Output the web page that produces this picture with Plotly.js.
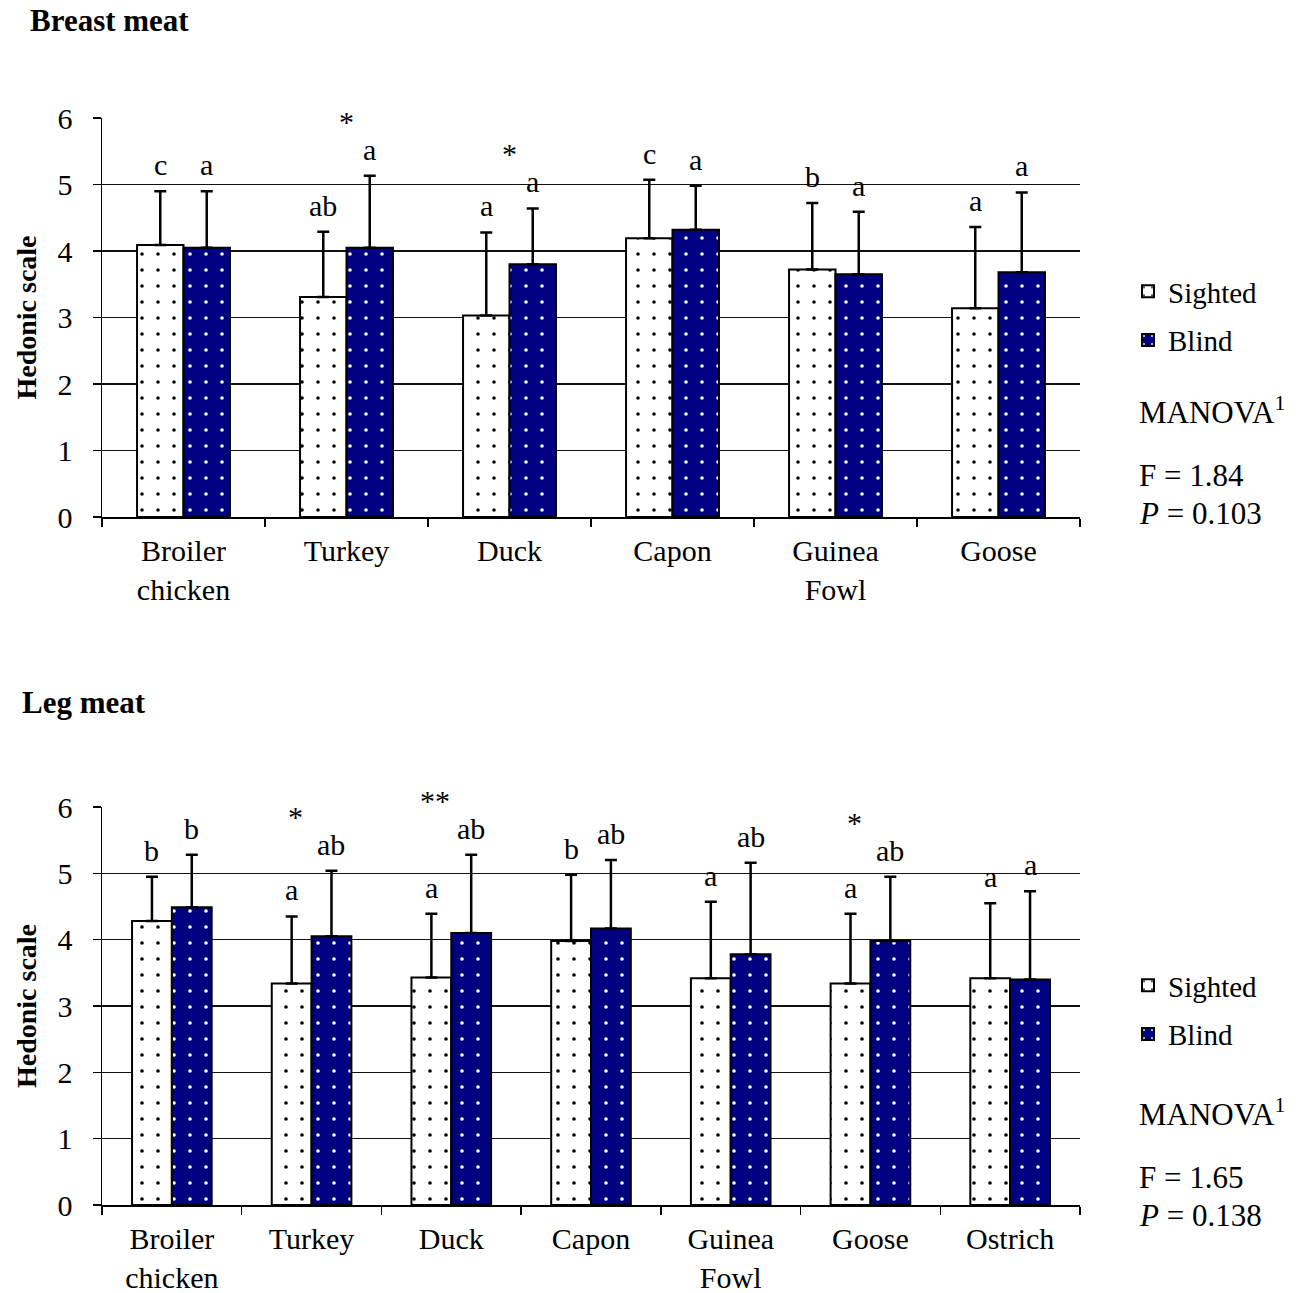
<!DOCTYPE html>
<html>
<head>
<meta charset="utf-8">
<script src="https://cdn.plot.ly/plotly-3.0.1.min.js"></script>
<style>html,body{margin:0;padding:0;background:#fff;}#chart{width:1306px;height:1293px;}</style>
</head>
<body>
<div id="chart"></div>
<script>
// ---------- Data ----------
const breastCategories = ['Broiler<br>chicken', 'Turkey', 'Duck', 'Capon', 'Guinea<br>Fowl', 'Goose'];
const breastSightedMean = [4.09, 3.31, 3.03, 4.19, 3.72, 3.14];
const breastSightedSD   = [0.81, 0.98, 1.25, 0.88, 1.00, 1.22];
const breastBlindMean   = [4.05, 4.05, 3.80, 4.32, 3.65, 3.68];
const breastBlindSD     = [0.85, 1.08, 0.84, 0.66, 0.94, 1.20];
const breastSightedLetters = ['c', 'ab', 'a', 'c', 'b', 'a'];
const breastBlindLetters   = ['a', 'a', 'a', 'a', 'a', 'a'];
const breastStars          = ['', '*', '*', '', '', ''];
const breastF = '1.84';
const breastP = '0.103';

const legCategories = ['Broiler<br>chicken', 'Turkey', 'Duck', 'Capon', 'Guinea<br>Fowl', 'Goose', 'Ostrich'];
const legSightedMean = [4.28, 3.34, 3.43, 3.98, 3.42, 3.34, 3.42];
const legSightedSD   = [0.67, 1.01, 0.96, 1.00, 1.15, 1.05, 1.13];
const legBlindMean   = [4.49, 4.05, 4.10, 4.17, 3.78, 3.98, 3.40];
const legBlindSD     = [0.79, 0.99, 1.18, 1.03, 1.38, 0.97, 1.33];
const legSightedLetters = ['b', 'a', 'a', 'b', 'a', 'a', 'a'];
const legBlindLetters   = ['b', 'ab', 'ab', 'ab', 'ab', 'ab', 'a'];
const legStars          = ['', '*', '**', '', '', '*', ''];
const legF = '1.65';
const legP = '0.138';

const seriesNames = ['Sighted', 'Blind'];
const yTicks = [0, 1, 2, 3, 4, 5, 6];

// ---------- Styles ----------
const W = 1306, H = 1293;
const FONT = 'Liberation Serif, Times New Roman, serif';
const NAVY = '#000080';
const BARGAP = 0.43;
const TXT = 30;
const xDomain = [102 / W, 1080 / W];
const topDomain = [1 - 517 / H, 1 - 118 / H];
const botDomain = [1 - 1205 / H, 1 - 807 / H];

function sightedTrace(cats, mean, sd, xa, ya, legend) {
  return {
    type: 'bar', name: seriesNames[0], x: cats, y: mean, xaxis: xa, yaxis: ya, legend: legend, legendgroup: 's' + legend,
    marker: {
      color: '#ffffff',
      line: {color: '#000', width: 2},
      pattern: {shape: '.', fillmode: 'overlay', bgcolor: '#ffffff', fgcolor: '#000000', fgopacity: 1, size: 16, solidity: 0.04}
    },
    error_y: {type: 'data', symmetric: false, array: sd, arrayminus: sd.map(() => 0), color: '#000', thickness: 2.5, width: 6},
    hoverinfo: 'skip'
  };
}
function blindTrace(cats, mean, sd, xa, ya, legend) {
  return {
    type: 'bar', name: seriesNames[1], x: cats, y: mean, xaxis: xa, yaxis: ya, legend: legend, legendgroup: 'b' + legend,
    marker: {
      color: NAVY,
      line: {color: '#000', width: 2},
      pattern: {shape: '.', fillmode: 'overlay', bgcolor: NAVY, fgcolor: '#ffffff', fgopacity: 1, size: 16, solidity: 0.04}
    },
    error_y: {type: 'data', symmetric: false, array: sd, arrayminus: sd.map(() => 0), color: '#000', thickness: 2.5, width: 6},
    hoverinfo: 'skip'
  };
}

const data = [
  sightedTrace(breastCategories, breastSightedMean, breastSightedSD, 'x', 'y', 'legend'),
  blindTrace(breastCategories, breastBlindMean, breastBlindSD, 'x', 'y', 'legend'),
  sightedTrace(legCategories, legSightedMean, legSightedSD, 'x2', 'y2', 'legend2'),
  blindTrace(legCategories, legBlindMean, legBlindSD, 'x2', 'y2', 'legend2')
];

const annotations = [];
function addLabels(cats, sMean, sSD, bMean, bSD, sLet, bLet, stars, xref, yref, starOffsetFactor) {
  const plotW = (xDomain[1] - xDomain[0]) * W;
  const catPx = plotW / cats.length;
  const half = catPx * (1 - BARGAP) / 4;
  cats.forEach((c, i) => {
    const sTop = sMean[i] + sSD[i];
    const bTop = bMean[i] + bSD[i];
    annotations.push({x: c, y: sTop, xref, yref, xshift: -half, yshift: 8, yanchor: 'bottom', showarrow: false,
      text: sLet[i], font: {family: FONT, size: TXT, color: '#000'}});
    annotations.push({x: c, y: bTop, xref, yref, xshift: half, yshift: 8, yanchor: 'bottom', showarrow: false,
      text: bLet[i], font: {family: FONT, size: TXT, color: '#000'}});
    if (stars[i]) {
      annotations.push({x: c, y: Math.max(sTop, bTop), xref, yref, xshift: -half * starOffsetFactor, yshift: 36,
        yanchor: 'bottom', showarrow: false, text: stars[i], font: {family: FONT, size: 30, color: '#000'}});
    }
  });
}
addLabels(breastCategories, breastSightedMean, breastSightedSD, breastBlindMean, breastBlindSD,
  breastSightedLetters, breastBlindLetters, breastStars, 'x', 'y', 0);
addLabels(legCategories, legSightedMean, legSightedSD, legBlindMean, legBlindSD,
  legSightedLetters, legBlindLetters, legStars, 'x2', 'y2', 0.8);

function statsText(yTop, F, P) {
  const f = {family: FONT, size: 31, color: '#000'};
  annotations.push({xref: 'paper', yref: 'paper', x: 1137 / W, y: 1 - yTop / H, xanchor: 'left', yanchor: 'middle',
    showarrow: false, text: 'MANOVA<sup>1</sup>', font: f});
  annotations.push({xref: 'paper', yref: 'paper', x: 1137 / W, y: 1 - (yTop + 65) / H, xanchor: 'left', yanchor: 'middle',
    showarrow: false, text: 'F = ' + F, font: f});
  annotations.push({xref: 'paper', yref: 'paper', x: 1137 / W, y: 1 - (yTop + 103) / H, xanchor: 'left', yanchor: 'middle',
    showarrow: false, text: '<i>P</i> = ' + P, font: f});
}
statsText(410, breastF, breastP);
statsText(1112, legF, legP);

annotations.push({xref: 'paper', yref: 'paper', x: 20 / W, y: 1 - 702 / H, xanchor: 'left', yanchor: 'middle',
  showarrow: false, text: 'Leg meat', font: {family: FONT, size: 31, color: '#000', weight: 'bold'}});

function xAxis(domain, anchor) {
  return {
    domain: domain, anchor: anchor, type: 'category', showline: true, linecolor: '#000', linewidth: 1.5,
    ticks: 'outside', tickson: 'boundaries', ticklen: 8, tickcolor: '#000', tickwidth: 1.5,
    tickfont: {family: FONT, size: TXT, color: '#000'}, ticklabelstandoff: 6, showgrid: false, zeroline: false,
    fixedrange: true
  };
}
function yAxis(domain, anchor) {
  return {
    domain: domain, anchor: anchor, range: [0, 6], tickvals: yTicks, showline: true, linecolor: '#000', linewidth: 1.5,
    ticks: 'outside', ticklen: 8, tickcolor: '#000', tickwidth: 1.5, showgrid: true, gridcolor: '#111', gridwidth: 1.2,
    zeroline: false, tickfont: {family: FONT, size: TXT, color: '#000'}, ticklabelstandoff: 14,
    title: {text: 'Hedonic scale', font: {family: FONT, size: 28, color: '#000', weight: 'bold'}},
    fixedrange: true
  };
}

const legendStyle = (yTop) => ({
  x: 1128 / W, y: 1 - yTop / H, xanchor: 'left', yanchor: 'top', font: {family: FONT, size: 29, color: '#000'},
  bgcolor: 'rgba(0,0,0,0)', tracegroupgap: 8, traceorder: 'grouped', itemwidth: 30
});

const layout = {
  width: W, height: H,
  margin: {l: 0, r: 0, t: 0, b: 0},
  paper_bgcolor: '#fff', plot_bgcolor: '#fff',
  font: {family: FONT, color: '#000'},
  barmode: 'group', bargap: BARGAP, bargroupgap: 0,
  title: {text: 'Breast meat', x: 30 / W, xanchor: 'left', xref: 'paper', y: 1 - 20 / H, yanchor: 'middle', yref: 'paper',
    font: {family: FONT, size: 31, color: '#000', weight: 'bold'}},
  xaxis: xAxis(xDomain, 'y'),
  yaxis: yAxis(topDomain, 'x'),
  xaxis2: xAxis(xDomain, 'y2'),
  yaxis2: yAxis(botDomain, 'x2'),
  showlegend: true,
  legend: legendStyle(266),
  legend2: legendStyle(960),
  annotations: annotations
};

Plotly.newPlot('chart', data, layout, {staticPlot: true, displayModeBar: false});
</script>
</body>
</html>
